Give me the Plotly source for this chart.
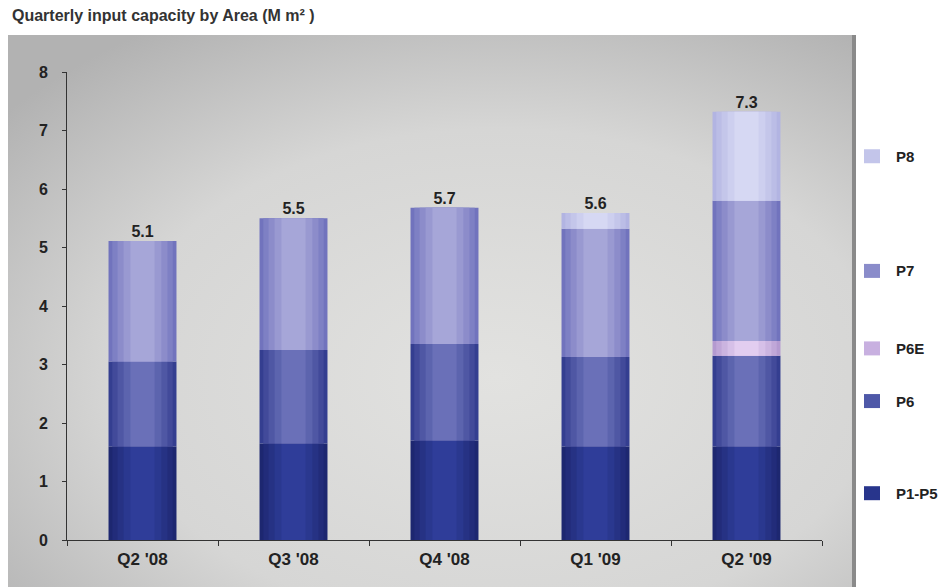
import base64
import plotly.graph_objects as go

quarters = ["Q2 '08", "Q3 '08", "Q4 '08", "Q1 '09", "Q2 '09"]
p1_p5 = [1.6, 1.65, 1.7, 1.6, 1.6]
p6 = [1.45, 1.6, 1.65, 1.53, 1.55]
p6e = [0, 0, 0, 0, 0.25]
p7 = [2.06, 2.25, 2.33, 2.19, 2.4]
p8 = [0, 0, 0, 0.27, 1.52]
totals = [5.1, 5.5, 5.7, 5.6, 7.3]
y_ticks = [0, 1, 2, 3, 4, 5, 6, 7, 8]

# name, values, edge colour, centre colour, legend colour
series = [
    ("P1-P5", p1_p5, "#1d2770", "#2f3d99", "#28358c"),
    ("P6", p6, "#343e90", "#6a70b8", "#4e58a8"),
    ("P6E", p6e, "#b49ad0", "#e2cdf0", "#c8b0e0"),
    ("P7", p7, "#7173bd", "#a6a6d8", "#8a8cca"),
    ("P8", p8, "#b2b4e2", "#d6d8f3", "#c3c5ea"),
]

FONT = "Liberation Sans, Arial, sans-serif"
OFF = 8  # page body margin
W, H = 949 - OFF, 587 - OFF


def mix(c1, c2, t):
    a = [int(c1[i:i + 2], 16) for i in (1, 3, 5)]
    b = [int(c2[i:i + 2], 16) for i in (1, 3, 5)]
    return "#" + "".join(f"{round(x + (y - x) * t):02x}" for x, y in zip(a, b))


fig = go.Figure()
widths = [0.45, 0.40, 0.33, 0.25, 0.16]
bases = [0.0] * len(quarters)
for name, vals, edge, centre, _ in series:
    for k, w in enumerate(widths):
        fig.add_trace(go.Bar(x=quarters, y=vals, base=list(bases), name=name,
                             marker=dict(color=mix(edge, centre, k / (len(widths) - 1)), line=dict(width=0)),
                             width=w, showlegend=False, hoverinfo="skip" if k else None))
    bases = [b + v for b, v in zip(bases, vals)]

fig.add_trace(go.Scatter(x=quarters, y=bases,
                         mode="text", text=[f"{t:.1f}" for t in totals], textposition="top center",
                         textfont=dict(family=FONT, size=16, color="#222", weight="bold"),
                         showlegend=False, hoverinfo="skip"))

svg = """<svg xmlns='http://www.w3.org/2000/svg' width='853' height='546' viewBox='0 0 853 546' preserveAspectRatio='none'>
<defs><radialGradient id='g' cx='0.58' cy='0.62' r='0.75'>
<stop offset='0' stop-color='#e2e2e0'/><stop offset='0.6' stop-color='#d6d6d5'/><stop offset='1' stop-color='#b2b2b2'/></radialGradient></defs>
<rect x='0' y='0' width='853' height='546' fill='url(#g)'/>
<rect x='849' y='0' width='4' height='546' fill='#8a8a8a'/>
</svg>"""
src = "data:image/svg+xml;base64," + base64.b64encode(svg.encode()).decode()

# target pixel positions (in the 949x587 screenshot)
L, R, T, B = 67, 822, 72, 540
pw, ph = R - L, B - T
def px(x):
    return (x - L) / pw
def py(y):
    return (B - y) / ph

fig.add_layout_image(dict(source=src, xref="paper", yref="paper", x=px(3), y=py(35),
                          sizex=px(856) - px(3), sizey=py(35) - py(587), xanchor="left", yanchor="top",
                          sizing="stretch", layer="below"))

last = len(quarters) - 1
base = 0
shapes = []
annotations = []
for name, vals, _, _, col in series:
    mid = base + vals[last] / 2
    base += vals[last]
    shapes.append(dict(type="rect", xref="paper", yref="y", x0=px(864), x1=px(880),
                       ysizemode="pixel", yanchor=mid, y0=-7, y1=7, fillcolor=col, line=dict(width=0)))
    annotations.append(dict(xref="paper", yref="y", x=px(894), y=mid, xanchor="left", yanchor="middle",
                            text=name, showarrow=False,
                            font=dict(family=FONT, size=15, color="#222", weight="bold")))

annotations.append(dict(xref="paper", yref="paper", x=px(10), y=py(16), xanchor="left", yanchor="middle",
                        text="Quarterly input capacity by Area (M m² )", showarrow=False,
                        font=dict(family=FONT, size=16, color="#333", weight="bold")))

fig.update_layout(
    width=W, height=H,
    margin=dict(l=L - OFF, r=949 - R, t=T - OFF, b=587 - B),
    paper_bgcolor="white", plot_bgcolor="rgba(0,0,0,0)",
    barmode="overlay",
    shapes=shapes, annotations=annotations,
    font=dict(family=FONT),
    xaxis=dict(showgrid=False, showline=True, linecolor="#333", linewidth=1,
               ticks="outside", tickson="boundaries", ticklen=5, tickcolor="#333",
               tickfont=dict(family=FONT, size=17, color="#222", weight="bold"),
               ticklabelstandoff=4),
    yaxis=dict(range=[0, 8], tickvals=y_ticks, showgrid=False, zeroline=False, showline=True,
               linecolor="#333", linewidth=1, ticks="outside", ticklen=4, tickcolor="#333",
               tickfont=dict(family=FONT, size=16, color="#222", weight="bold"),
               ticklabelstandoff=11),
)

fig.write_html("out.html")
